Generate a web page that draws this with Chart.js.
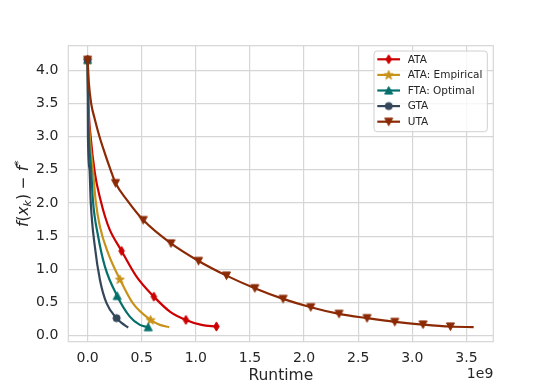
<!DOCTYPE html>
<html lang="en">
<head>
    <meta charset="UTF-8">
    <title>Runtime vs f(x_k) - f*</title>
    <script src="https://cdn.jsdelivr.net/npm/chart.js"></script>
    <style>
        body { margin: 0; background: #fff; }
    </style>
</head>
<body>
    <canvas id="runtimeChart" width="548" height="384"></canvas>

    <script>
        // runtime in units of 1e9, gap f(x_k) - f*
        const ataX = [0, 0.008, 0.028, 0.067, 0.12, 0.16, 0.206, 0.314, 0.452, 0.612, 0.76, 0.908, 1.053, 1.19];
        const ataY = [4.16, 3.5, 3.0, 2.45, 2.04, 1.8, 1.59, 1.276, 0.889, 0.587, 0.362, 0.236, 0.161, 0.136];
        const ataMarks = [0, 7, 9, 11, 13];

        const empX = [0, 0.006, 0.02, 0.049, 0.074, 0.114, 0.19, 0.298, 0.421, 0.582, 0.668, 0.754];
        const empY = [4.16, 3.5, 3.0, 2.5, 2.04, 1.64, 1.24, 0.849, 0.48, 0.236, 0.161, 0.126];
        const empMarks = [0, 7, 9];

        const ftaX = [0, 0.005, 0.012, 0.033, 0.049, 0.098, 0.16, 0.273, 0.39, 0.483, 0.56];
        const ftaY = [4.16, 3.5, 3.0, 2.5, 2.04, 1.49, 1.04, 0.598, 0.286, 0.161, 0.126];
        const ftaMarks = [0, 7, 10];

        const gtaX = [0, 0.003, 0.018, 0.028, 0.067, 0.114, 0.175, 0.268, 0.314, 0.375];
        const gtaY = [4.16, 3.0, 2.5, 2.04, 1.34, 0.839, 0.488, 0.262, 0.19, 0.12];
        const gtaMarks = [0, 7];

        const utaX = [0, 0.012, 0.033, 0.067, 0.11, 0.157, 0.212, 0.258, 0.366, 0.514, 0.77, 1.025, 1.283, 1.545, 1.806, 2.062, 2.323, 2.582, 2.838, 3.099, 3.352, 3.567];
        const utaY = [4.16, 3.8, 3.5, 3.26, 3.0, 2.76, 2.5, 2.3, 2.04, 1.742, 1.39, 1.125, 0.904, 0.714, 0.553, 0.427, 0.327, 0.262, 0.206, 0.166, 0.136, 0.126];
        const utaMarks = [0, 7, 9, 10, 11, 12, 13, 14, 15, 16, 17, 18, 19, 20];

        const seriesNames = ['ATA', 'ATA: Empirical', 'FTA: Optimal', 'GTA', 'UTA'];
        const seriesColors = ['#cc0000', '#c8921a', '#056f6c', '#34475a', '#8b2a05'];
        const seriesShapes = ['thin_diamond', 'star', 'triangle_up', 'circle', 'triangle_down'];

        const textColor = '#262626';
        const gridColor = '#d6d6d6';

        function makeMarker(shape, color) {
            const c = document.createElement('canvas');
            c.width = 13; c.height = 13;
            const g = c.getContext('2d');
            const m = 6.5;
            g.fillStyle = color;
            g.strokeStyle = color;
            g.lineWidth = 1;
            g.beginPath();
            if (shape === 'thin_diamond') {
                g.moveTo(m, m - 4.6); g.lineTo(m + 2.8, m); g.lineTo(m, m + 4.6); g.lineTo(m - 2.8, m);
            } else if (shape === 'star') {
                for (let i = 0; i < 10; i++) {
                    const r = i % 2 === 0 ? 4.8 : 2;
                    const a = -Math.PI / 2 + i * Math.PI / 5;
                    const px = m + r * Math.cos(a), py = m + 0.3 + r * Math.sin(a);
                    if (i === 0) g.moveTo(px, py); else g.lineTo(px, py);
                }
            } else if (shape === 'triangle_up') {
                g.moveTo(m, m - 4); g.lineTo(m + 4, m + 3.6); g.lineTo(m - 4, m + 3.6);
            } else if (shape === 'triangle_down') {
                g.moveTo(m, m + 4); g.lineTo(m + 4, m - 3.6); g.lineTo(m - 4, m - 3.6);
            } else {
                g.arc(m, m, 3.6, 0, Math.PI * 2);
            }
            g.closePath();
            g.fill();
            g.stroke();
            return c;
        }

        const markers = seriesShapes.map((s, i) => makeMarker(s, seriesColors[i]));

        function toPoints(xs, ys) {
            return xs.map((x, i) => ({ x: x, y: ys[i] }));
        }

        const allX = [ataX, empX, ftaX, gtaX, utaX];
        const allY = [ataY, empY, ftaY, gtaY, utaY];
        const allMarks = [ataMarks, empMarks, ftaMarks, gtaMarks, utaMarks];

        const datasets = seriesNames.map((name, i) => ({
            label: name,
            data: toPoints(allX[i], allY[i]),
            borderColor: seriesColors[i],
            backgroundColor: seriesColors[i],
            borderWidth: 2.2,
            cubicInterpolationMode: 'monotone',
            pointStyle: markers[i],
            pointRadius: ctx => allMarks[i].includes(ctx.dataIndex) ? 4 : 0,
            pointHoverRadius: 0,
            order: 5 - i
        }));

        // frame, axis titles, offset text and legend drawn by hand
        const decorations = {
            id: 'decorations',
            beforeDatasetsDraw(chart) {
                const { ctx, chartArea: a } = chart;
                ctx.save();
                ctx.strokeStyle = gridColor;
                ctx.lineWidth = 1.2;
                ctx.strokeRect(a.left, a.top, a.right - a.left, a.bottom - a.top);
                ctx.restore();
            },
            afterDraw(chart) {
                const { ctx, chartArea: a } = chart;
                ctx.save();
                ctx.fillStyle = textColor;

                // x title
                ctx.font = '15.5px "DejaVu Sans"';
                ctx.textAlign = 'center';
                ctx.textBaseline = 'middle';
                ctx.fillText('Runtime', (a.left + a.right) / 2, 376);

                // offset text
                ctx.font = '14px "DejaVu Sans"';
                ctx.textAlign = 'right';
                ctx.fillText('1e9', a.right, 374);

                // y title: f(x_k) - f^*
                const parts = [
                    { t: 'f', it: true }, { t: '(', it: false }, { t: 'x', it: true },
                    { t: 'k', it: true, sub: true }, { t: ')', it: false },
                    { t: ' \u2212 ', it: false }, { t: 'f', it: true }, { t: '*', it: false, sup: true }
                ];
                const fs = 15.5;
                const fontOf = p => (p.it ? 'italic ' : '') + ((p.sub || p.sup) ? fs * 0.7 : fs) + 'px "DejaVu Sans"';
                let total = 0;
                parts.forEach(p => { ctx.font = fontOf(p); p.w = ctx.measureText(p.t).width; total += p.w; });
                ctx.translate(22, (a.top + a.bottom) / 2);
                ctx.rotate(-Math.PI / 2);
                ctx.textAlign = 'left';
                ctx.textBaseline = 'alphabetic';
                let px = -total / 2;
                parts.forEach(p => {
                    ctx.font = fontOf(p);
                    let dy = 5.5;
                    if (p.sub) dy += 3.5;
                    if (p.sup) dy -= 6;
                    ctx.fillText(p.t, px, dy);
                    px += p.w;
                });
                ctx.restore();

                // legend
                ctx.save();
                const bx = 374, by = 51, bw = 113.3, bh = 80.7, r = 3;
                ctx.beginPath();
                ctx.moveTo(bx + r, by);
                ctx.arcTo(bx + bw, by, bx + bw, by + bh, r);
                ctx.arcTo(bx + bw, by + bh, bx, by + bh, r);
                ctx.arcTo(bx, by + bh, bx, by, r);
                ctx.arcTo(bx, by, bx + bw, by, r);
                ctx.closePath();
                ctx.fillStyle = 'rgba(255,255,255,0.8)';
                ctx.fill();
                ctx.strokeStyle = '#d0d0d0';
                ctx.lineWidth = 1;
                ctx.stroke();
                ctx.font = '10.5px "DejaVu Sans"';
                ctx.textAlign = 'left';
                ctx.textBaseline = 'middle';
                seriesNames.forEach((name, i) => {
                    const y = 59.3 + i * 15.6;
                    ctx.strokeStyle = seriesColors[i];
                    ctx.lineWidth = 2.2;
                    ctx.beginPath();
                    ctx.moveTo(377.3, y);
                    ctx.lineTo(400, y);
                    ctx.stroke();
                    ctx.drawImage(markers[i], 388.7 - markers[i].width / 2, y - markers[i].height / 2);
                    ctx.fillStyle = textColor;
                    ctx.fillText(name, 407.7, y + 0.5);
                });
                ctx.restore();
            }
        };

        const tickFont = { family: 'DejaVu Sans', size: 14 };

        new Chart(document.getElementById('runtimeChart').getContext('2d'), {
            type: 'line',
            data: { datasets: datasets },
            options: {
                responsive: false,
                animation: false,
                layout: { padding: { top: 45.7, right: 54.7, left: 0, bottom: 0 } },
                plugins: {
                    legend: { display: false },
                    tooltip: { enabled: false }
                },
                scales: {
                    x: {
                        type: 'linear',
                        min: -0.1785,
                        max: 3.7485,
                        ticks: {
                            stepSize: 0.5,
                            includeBounds: false,
                            maxRotation: 0,
                            autoSkip: false,
                            padding: 8,
                            color: textColor,
                            font: tickFont,
                            callback: v => v.toFixed(1)
                        },
                        grid: { color: gridColor, lineWidth: 1.2, drawTicks: false },
                        border: { display: false },
                        afterFit: s => { s.height = 42.3; }
                    },
                    y: {
                        type: 'linear',
                        min: -0.093,
                        max: 4.373,
                        ticks: {
                            stepSize: 0.5,
                            includeBounds: false,
                            autoSkip: false,
                            padding: 10,
                            color: textColor,
                            font: tickFont,
                            callback: v => v.toFixed(1)
                        },
                        grid: { color: gridColor, lineWidth: 1.2, drawTicks: false },
                        border: { display: false },
                        afterFit: s => { s.width = 68.3; }
                    }
                }
            },
            plugins: [decorations]
        });
    </script>
</body>
</html>
